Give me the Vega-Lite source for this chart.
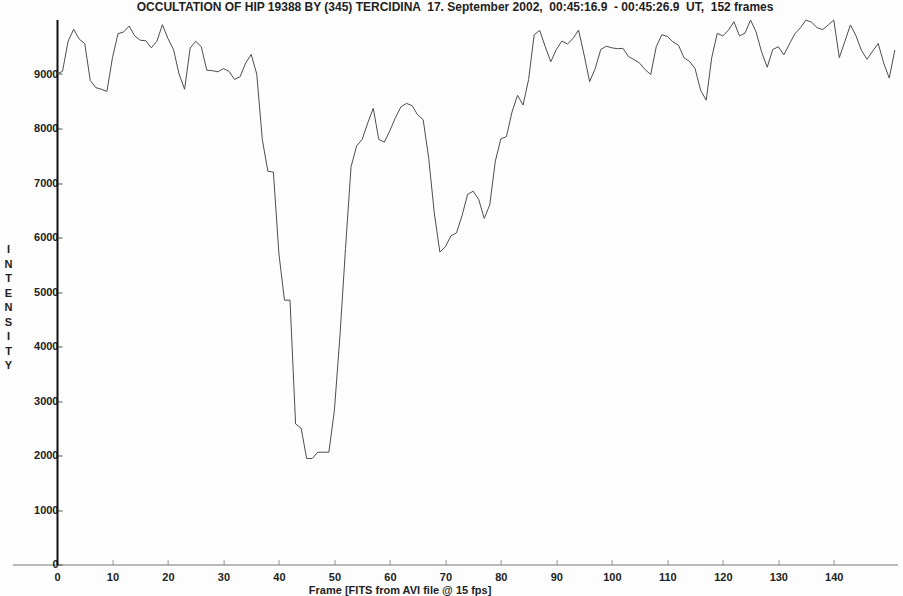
{
  "$schema": "https://vega.github.io/schema/vega-lite/v6.json",
  "width": 885,
  "height": 545,
  "autosize": "none",
  "padding": {"left": 12.6, "top": 19.5, "right": 5.4, "bottom": 31.5},
  "background": "#fdfdfd",
  "title": {
    "text": "OCCULTATION OF HIP 19388 BY (345) TERCIDINA \u00a017. September 2002, \u00a000:45:16.9 \u00a0- 00:45:26.9 \u00a0UT, \u00a0152 frames",
    "font": "Liberation Sans",
    "fontSize": 12,
    "fontWeight": "bold",
    "color": "#222222",
    "anchor": "middle",
    "offset": 4
  },
  "config": {
    "view": {"stroke": null},
    "axis": {
      "labelFont": "Liberation Sans",
      "labelFontSize": 11,
      "labelFontWeight": "bold",
      "labelColor": "#222222",
      "titleFont": "Liberation Sans",
      "titleFontSize": 11,
      "titleFontWeight": "bold",
      "titleColor": "#222222",
      "grid": false
    }
  },
  "data": {
    "values": [
      {"frame": 0, "intensity": 9000}, {"frame": 1, "intensity": 9050}, {"frame": 2, "intensity": 9600}, {"frame": 3, "intensity": 9820},
      {"frame": 4, "intensity": 9640}, {"frame": 5, "intensity": 9560}, {"frame": 6, "intensity": 8880}, {"frame": 7, "intensity": 8750},
      {"frame": 8, "intensity": 8720}, {"frame": 9, "intensity": 8680}, {"frame": 10, "intensity": 9300}, {"frame": 11, "intensity": 9740},
      {"frame": 12, "intensity": 9770}, {"frame": 13, "intensity": 9880}, {"frame": 14, "intensity": 9700}, {"frame": 15, "intensity": 9620},
      {"frame": 16, "intensity": 9610}, {"frame": 17, "intensity": 9480}, {"frame": 18, "intensity": 9600}, {"frame": 19, "intensity": 9905},
      {"frame": 20, "intensity": 9650}, {"frame": 21, "intensity": 9450}, {"frame": 22, "intensity": 9000}, {"frame": 23, "intensity": 8720},
      {"frame": 24, "intensity": 9475}, {"frame": 25, "intensity": 9600}, {"frame": 26, "intensity": 9500}, {"frame": 27, "intensity": 9070},
      {"frame": 28, "intensity": 9060}, {"frame": 29, "intensity": 9040}, {"frame": 30, "intensity": 9100}, {"frame": 31, "intensity": 9050},
      {"frame": 32, "intensity": 8900}, {"frame": 33, "intensity": 8950}, {"frame": 34, "intensity": 9200}, {"frame": 35, "intensity": 9360},
      {"frame": 36, "intensity": 9000}, {"frame": 37, "intensity": 7800}, {"frame": 38, "intensity": 7217}, {"frame": 39, "intensity": 7200},
      {"frame": 40, "intensity": 5700}, {"frame": 41, "intensity": 4850}, {"frame": 42, "intensity": 4850}, {"frame": 43, "intensity": 2580},
      {"frame": 44, "intensity": 2500}, {"frame": 45, "intensity": 1945}, {"frame": 46, "intensity": 1945}, {"frame": 47, "intensity": 2060},
      {"frame": 48, "intensity": 2060}, {"frame": 49, "intensity": 2060}, {"frame": 50, "intensity": 2830}, {"frame": 51, "intensity": 4200},
      {"frame": 52, "intensity": 5800}, {"frame": 53, "intensity": 7300}, {"frame": 54, "intensity": 7680}, {"frame": 55, "intensity": 7800},
      {"frame": 56, "intensity": 8100}, {"frame": 57, "intensity": 8370}, {"frame": 58, "intensity": 7800}, {"frame": 59, "intensity": 7750},
      {"frame": 60, "intensity": 7960}, {"frame": 61, "intensity": 8200}, {"frame": 62, "intensity": 8400}, {"frame": 63, "intensity": 8460},
      {"frame": 64, "intensity": 8420}, {"frame": 65, "intensity": 8250}, {"frame": 66, "intensity": 8160}, {"frame": 67, "intensity": 7450},
      {"frame": 68, "intensity": 6450}, {"frame": 69, "intensity": 5735}, {"frame": 70, "intensity": 5830}, {"frame": 71, "intensity": 6030},
      {"frame": 72, "intensity": 6085}, {"frame": 73, "intensity": 6400}, {"frame": 74, "intensity": 6790}, {"frame": 75, "intensity": 6850},
      {"frame": 76, "intensity": 6700}, {"frame": 77, "intensity": 6350}, {"frame": 78, "intensity": 6600}, {"frame": 79, "intensity": 7400},
      {"frame": 80, "intensity": 7810}, {"frame": 81, "intensity": 7850}, {"frame": 82, "intensity": 8300}, {"frame": 83, "intensity": 8610},
      {"frame": 84, "intensity": 8430}, {"frame": 85, "intensity": 8900}, {"frame": 86, "intensity": 9720}, {"frame": 87, "intensity": 9800},
      {"frame": 88, "intensity": 9500}, {"frame": 89, "intensity": 9225}, {"frame": 90, "intensity": 9450}, {"frame": 91, "intensity": 9605},
      {"frame": 92, "intensity": 9550}, {"frame": 93, "intensity": 9650}, {"frame": 94, "intensity": 9807}, {"frame": 95, "intensity": 9350},
      {"frame": 96, "intensity": 8860}, {"frame": 97, "intensity": 9100}, {"frame": 98, "intensity": 9450}, {"frame": 99, "intensity": 9510},
      {"frame": 100, "intensity": 9480}, {"frame": 101, "intensity": 9465}, {"frame": 102, "intensity": 9470}, {"frame": 103, "intensity": 9320},
      {"frame": 104, "intensity": 9265}, {"frame": 105, "intensity": 9200}, {"frame": 106, "intensity": 9080}, {"frame": 107, "intensity": 8990},
      {"frame": 108, "intensity": 9500}, {"frame": 109, "intensity": 9720}, {"frame": 110, "intensity": 9690}, {"frame": 111, "intensity": 9590},
      {"frame": 112, "intensity": 9530}, {"frame": 113, "intensity": 9300}, {"frame": 114, "intensity": 9230}, {"frame": 115, "intensity": 9100},
      {"frame": 116, "intensity": 8700}, {"frame": 117, "intensity": 8520}, {"frame": 118, "intensity": 9300}, {"frame": 119, "intensity": 9745},
      {"frame": 120, "intensity": 9700}, {"frame": 121, "intensity": 9800}, {"frame": 122, "intensity": 9960}, {"frame": 123, "intensity": 9700},
      {"frame": 124, "intensity": 9750}, {"frame": 125, "intensity": 9990}, {"frame": 126, "intensity": 9770}, {"frame": 127, "intensity": 9400},
      {"frame": 128, "intensity": 9125}, {"frame": 129, "intensity": 9450}, {"frame": 130, "intensity": 9500}, {"frame": 131, "intensity": 9350},
      {"frame": 132, "intensity": 9550}, {"frame": 133, "intensity": 9740}, {"frame": 134, "intensity": 9850}, {"frame": 135, "intensity": 9990},
      {"frame": 136, "intensity": 9950}, {"frame": 137, "intensity": 9850}, {"frame": 138, "intensity": 9815}, {"frame": 139, "intensity": 9900},
      {"frame": 140, "intensity": 9990}, {"frame": 141, "intensity": 9300}, {"frame": 142, "intensity": 9600}, {"frame": 143, "intensity": 9900},
      {"frame": 144, "intensity": 9700}, {"frame": 145, "intensity": 9430}, {"frame": 146, "intensity": 9270}, {"frame": 147, "intensity": 9420},
      {"frame": 148, "intensity": 9560}, {"frame": 149, "intensity": 9200}, {"frame": 150, "intensity": 8925}, {"frame": 151, "intensity": 9440}
    ]
  },
  "mark": {"type": "line", "color": "#4d4d4d", "strokeWidth": 1},
  "encoding": {
    "x": {
      "field": "frame",
      "type": "quantitative",
      "scale": {"domain": [-8, 151.5], "nice": false, "zero": false},
      "axis": {
        "values": [0, 10, 20, 30, 40, 50, 60, 70, 80, 90, 100, 110, 120, 130, 140],
        "format": "d",
        "domainColor": "#777777",
        "domainWidth": 1,
        "tickColor": "#999999",
        "tickSize": -5,
        "labelPadding": 12,
        "title": "Frame [FITS from AVI file @ 15 fps]",
        "titleX": 387,
        "titleY": 26,
        "titleBaseline": "middle"
      }
    },
    "y": {
      "field": "intensity",
      "type": "quantitative",
      "scale": {"domain": [0, 10000], "nice": false},
      "axis": {
        "values": [0, 1000, 2000, 3000, 4000, 5000, 6000, 7000, 8000, 9000],
        "format": "d",
        "offset": -44.4,
        "domainColor": "#111111",
        "domainWidth": 2,
        "tickColor": "#555555",
        "tickSize": -5,
        "labelPadding": 4,
        "labelBaseline": "middle",
        "title": ["I", "N", "T", "E", "N", "S", "I", "T", "Y"],
        "titleAngle": 0,
        "titleAlign": "center",
        "titleBaseline": "top",
        "titleLineHeight": 14.5,
        "titleX": -49,
        "titleY": 224
      }
    }
  }
}
